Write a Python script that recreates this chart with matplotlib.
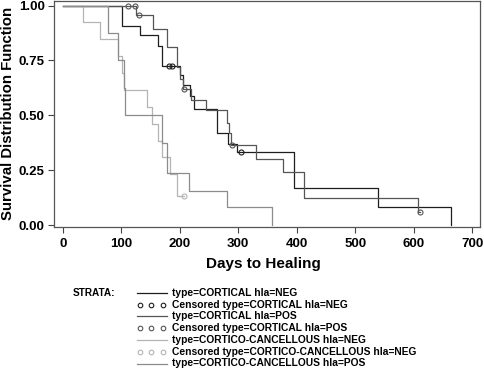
import numpy as np
import matplotlib
matplotlib.use('Agg')
import matplotlib.pyplot as plt
from matplotlib.lines import Line2D

plt.rcParams['font.family'] = ['Liberation Sans', 'DejaVu Sans']
plt.rcParams['font.weight'] = 'bold'

# Kaplan-Meier steps (days, survival)
cn_t = [0, 101, 132, 163, 169, 200, 205, 218, 225, 263, 283, 298, 396, 539, 663]
cn_s = [1.0, 0.909, 0.864, 0.818, 0.727, 0.682, 0.636, 0.59, 0.53, 0.42, 0.37, 0.333, 0.167, 0.083, 0.0]
cn_cens = [181, 186, 305]

cp_t = [0, 126, 154, 178, 195, 200, 206, 220, 245, 280, 284, 288, 330, 377, 413, 608, 610]
cp_s = [1.0, 0.957, 0.894, 0.81, 0.72, 0.667, 0.62, 0.568, 0.526, 0.465, 0.42, 0.364, 0.303, 0.242, 0.121, 0.061, 0.061]
cp_cens = [111, 124, 130, 207, 290, 610]

ccn_t = [0, 34, 63, 95, 102, 105, 144, 152, 163, 169, 183, 196, 208]
ccn_s = [1.0, 0.923, 0.846, 0.769, 0.692, 0.615, 0.538, 0.462, 0.385, 0.308, 0.231, 0.13, 0.13]
ccn_cens = [208]

ccp_t = [0, 78, 95, 104, 107, 169, 178, 215, 280, 358]
ccp_s = [1.0, 0.875, 0.75, 0.625, 0.5, 0.375, 0.235, 0.154, 0.08, 0.0]

labels = ['type=CORTICAL hla=NEG', 'Censored type=CORTICAL hla=NEG',
          'type=CORTICAL hla=POS', 'Censored type=CORTICAL hla=POS',
          'type=CORTICO-CANCELLOUS hla=NEG', 'Censored type=CORTICO-CANCELLOUS hla=NEG',
          'type=CORTICO-CANCELLOUS hla=POS']

c_cn, c_cp, c_ccn, c_ccp = '#1e1e1e', '#555555', '#b4b4b4', '#8c8c8c'


def surv_at(t, s, x):
    i = np.searchsorted(t, x, side='right') - 1
    return np.asarray(s)[i]


fig = plt.figure(figsize=(4.84, 3.70), dpi=100)
ax = fig.add_axes([0.1126, 0.3865, 0.879, 0.612])

curves = [(cn_t, cn_s, cn_cens, c_cn), (cp_t, cp_s, cp_cens, c_cp),
          (ccn_t, ccn_s, ccn_cens, c_ccn), (ccp_t, ccp_s, None, c_ccp)]
for t, s, cens, col in curves:
    ax.step(t, s, where='post', color=col, lw=0.9)
    if cens:
        ax.plot(cens, surv_at(t, s, cens), 'o', ms=3.6, mfc='none', mec=col, mew=0.8)

ax.set_xlim(-14, 713)
ax.set_ylim(-0.009, 1.023)
ax.set_xticks(np.arange(0, 701, 100))
ax.set_yticks([0, 0.25, 0.5, 0.75, 1.0])
ax.set_yticklabels(['0.00', '0.25', '0.50', '0.75', '1.00'])
ax.tick_params(direction='out', length=4, width=0.8, color='#444444', labelsize=9.5)
ax.tick_params(axis='x', pad=4)
ax.tick_params(axis='y', pad=3)
for sp in ax.spines.values():
    sp.set_color('#555555')
    sp.set_linewidth(0.9)
ax.set_xlabel('Days to Healing', fontsize=11, fontweight='bold', va='center')
ax.xaxis.set_label_coords(0.49, -0.164)
ax.set_ylabel('Survival Distribution Function', fontsize=10.8, fontweight='bold', va='center')
ax.yaxis.set_label_coords(-0.109, 0.5)

# legend drawn by hand like SAS output
W, H = 484.0, 370.0
fig.text(73 / W, 1 - 293 / H, 'STRATA:', fontsize=7.2, fontweight='bold', va='center')
key_cols = [c_cn, c_cn, c_cp, c_cp, c_ccn, c_ccn, c_ccp]
for k, lab in enumerate(labels):
    y = 1 - (292.7 + k * 11.8) / H
    if lab.startswith('Censored'):
        for xc in (139.5, 151, 162.5):
            fig.add_artist(Line2D([xc / W], [y], marker='o', ms=3.3, mfc='none',
                                  mec=key_cols[k], mew=0.8, transform=fig.transFigure))
    else:
        fig.add_artist(Line2D([137 / W, 167 / W], [y, y], color=key_cols[k], lw=0.9,
                              transform=fig.transFigure))
    fig.text(172 / W, y, lab, fontsize=7.4, fontweight='bold', va='center')

fig.savefig('out.png', dpi=100)
